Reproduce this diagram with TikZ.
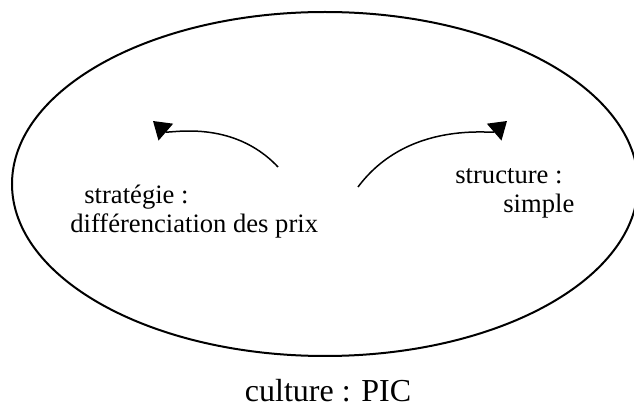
\documentclass[tikz,border=0pt]{standalone}
\usepackage{fontspec}
\setmainfont{Liberation Serif}
\usetikzlibrary{arrows.meta}

\begin{document}
\begin{tikzpicture}[x=0.5pt,y=-0.5pt,
    txtlabel/.style={inner sep=0pt, align=left, anchor=base west,
        font=\fontsize{13.3}{14.5}\selectfont},
    arcarrow/.style={line width = 0.75pt, -{Triangle[length=8.5pt,width=11pt]}}]

                    \useasboundingbox (0,0) rectangle (634,417);

                    \draw[line width = 1pt] (325,184) ellipse [x radius=313, y radius=172];

                    \node[txtlabel] (strategie) at (84,233)
                        {strat\'egie :\\\hspace*{-7pt}diff\'erenciation des prix};
                    \node[txtlabel] (structure) at (455,213)
                        {structure :\\\hspace*{24pt}simple};
                    \node[inner sep=0pt, anchor=base, font=\fontsize{16}{19}\selectfont]
                        (culture) at (328,402) {culture : PIC};

                    \coordinate (s1) at (278,167);
                    \coordinate (e1) at (153,121);
                    \coordinate (s2) at (358,187);
                    \coordinate (e2) at (507,121);

                    \draw[arcarrow] (s1) .. controls (232,118) and (168,134) .. (e1);
                    \draw[arcarrow] (s2) .. controls (408,120) and (492,134) .. (e2);

                \end{tikzpicture}
\end{document}
